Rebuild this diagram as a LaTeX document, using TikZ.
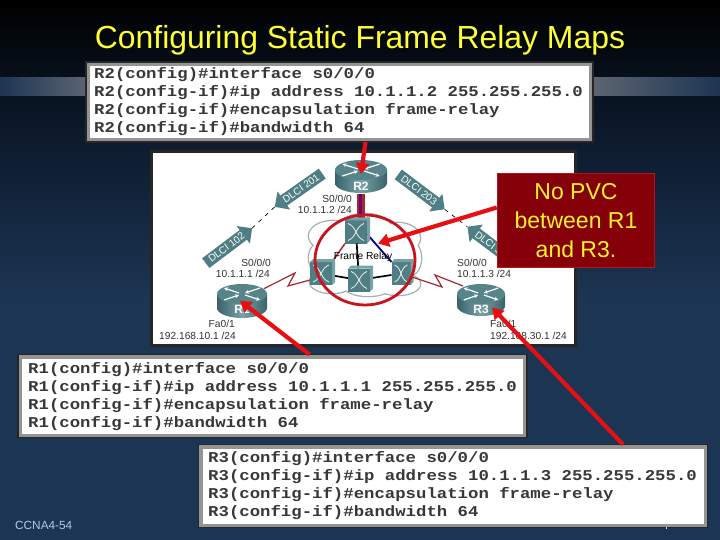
\documentclass[tikz,border=0pt]{standalone}
\usepackage{fontspec}
\setmainfont{Liberation Sans}
\newfontfamily\cfgfont{Liberation Mono}[BoldFont={Liberation Mono Bold}]
\usetikzlibrary{arrows.meta,shapes.arrows,shapes.geometric,calc}
\definecolor{navy}{HTML}{1C3553}
\definecolor{navyb}{HTML}{0A1626}
\definecolor{bandgray}{HTML}{5E6672}
\definecolor{titley}{HTML}{FFFF33}
\definecolor{tealm}{HTML}{4F7F84}
\definecolor{teall}{HTML}{78A2A5}
\definecolor{teald}{HTML}{39626A}
\definecolor{callred}{HTML}{850008}
\definecolor{callrim}{HTML}{B5121F}
\definecolor{arrred}{HTML}{E60F14}
\definecolor{ringred}{HTML}{C7141E}
\definecolor{linkred}{HTML}{A02A30}
\definecolor{cloudg}{HTML}{A4AFB4}
\definecolor{footc}{HTML}{AFCBE8}
\tikzset{
  cfgouter/.style={rectangle,draw=black!85,line width=1.6pt,fill=black!42,inner sep=0pt,outer sep=0pt,minimum width=#1},
  cfginner/.style={rectangle,fill=white,inner sep=0pt,outer sep=0pt,minimum width=#1},
  cfgtext/.style={anchor=west,align=left,inner sep=0pt,xscale=1.155,text=black!78,font=\cfgfont\bfseries\fontsize{15}{17.8}\selectfont},
  redarrow/.style={draw=arrred,line width=4.2pt,-{Triangle[length=11pt,width=13pt]}},
  tag/.style={single arrow,fill=tealm,text=white,inner sep=0.5pt,minimum height=58pt,minimum width=22pt,single arrow head extend=3.5pt,single arrow head indent=0pt,font=\fontsize{10}{11}\selectfont},
  lbl/.style={inner sep=0pt,text=black!80,font=\fontsize{10.2}{11}\selectfont},
  swbox/.style={rectangle,fill=tealm,minimum width=22pt,minimum height=23pt,inner sep=0pt,outer sep=0pt},
  rtrlbl/.style={inner sep=0pt,text=white,font=\bfseries\fontsize{12}{13}\selectfont},
  swline/.style={line width=1.7pt,draw=black},
  dashlink/.style={draw=black,line width=0.7pt,dash pattern=on 4pt off 5pt},
  zig/.style={draw=linkred,line width=1.2pt}
}
% name, cx, cy of top ellipse, rx, ry, body height, label y offset
\newcommand{\rtr}[7]{%
  \shade[left color=teald,right color=teald,middle color=teall]
    (#2-#4,#3) -- (#2-#4,#3+#6)
    arc[start angle=180,end angle=360,x radius=#4pt,y radius=#5pt]
    -- (#2+#4,#3) -- cycle;
  \fill[tealm!85!teall] (#2,#3) ellipse[x radius=#4pt,y radius=#5pt];
  \draw[white,line width=1.2pt,-{Stealth[length=4pt,width=4pt]}] (#2-0.12*#4,#3-0.1*#5) -- (#2-0.72*#4,#3-0.6*#5);
  \draw[white,line width=1.2pt,-{Stealth[length=4pt,width=4pt]}] (#2+0.12*#4,#3+0.1*#5) -- (#2+0.72*#4,#3+0.6*#5);
  \draw[white,line width=1.2pt,-{Stealth[length=4pt,width=4pt]}] (#2+0.72*#4,#3-0.6*#5) -- (#2+0.12*#4,#3-0.1*#5);
  \draw[white,line width=1.2pt,-{Stealth[length=4pt,width=4pt]}] (#2-0.72*#4,#3+0.6*#5) -- (#2-0.12*#4,#3+0.1*#5);
  \node[rtrlbl] (#1) at (#2,#3+#7) {#1};
}
\newcommand{\swx}[1]{%
  \fill[teall] (#1.north west) -- ++(3pt,3pt) -- ([shift={(3pt,3pt)}]#1.north east) -- ([shift={(3pt,3pt)}]#1.south east) -- (#1.south east) -- (#1.north east) -- cycle;
  \draw[white!85!teall,line width=0.8pt] ([shift={(3pt,-3pt)}]#1.north west) to[out=-20,in=160] ([shift={(-3pt,3pt)}]#1.south east);
  \draw[white!85!teall,line width=0.8pt] ([shift={(-3pt,-3pt)}]#1.north east) to[out=200,in=20] ([shift={(3pt,3pt)}]#1.south west);
}
\begin{document}
\begin{tikzpicture}[x=1pt,y=-1pt]
\useasboundingbox (0,0) rectangle (720,540);
% background
\fill[navy] (0,0) rectangle (720,540);
\shade[top color=black,bottom color=navyb] (0,0) rectangle (720,110);
\shade[top color=navyb,bottom color=navy] (0,110) rectangle (720,300);
\shade[left color=navy,right color=bandgray] (0,78) rectangle (90,96);
\shade[left color=bandgray,right color=navy] (590,78) rectangle (720,96);
% title
\node[inner sep=0pt,text=titley,font=\fontsize{31.9}{34}\selectfont] (title) at (360,40) {Configuring Static Frame Relay Maps};
% topology panel
\node[rectangle,draw=black!85,line width=3pt,fill=white,inner sep=0pt,outer sep=0pt,minimum width=424pt,minimum height=193pt] (panel) at (363.5,248.5) {};
% cloud
\foreach \cx/\cy/\rx/\ry in {333/236/24/15, 365/228/26/14, 398/238/22/15, 322/258/13/16, 410/258/11/17, 332/282/22/11, 368/286/24/10, 398/284/22/11}{
  \draw[cloudg,line width=2.6pt] (\cx,\cy) ellipse[x radius=\rx pt,y radius=\ry pt];}
\foreach \cx/\cy/\rx/\ry in {333/236/24/15, 365/228/26/14, 398/238/22/15, 322/258/13/16, 410/258/11/17, 332/282/22/11, 368/286/24/10, 398/284/22/11, 365/258/40/26}{
  \fill[white] (\cx,\cy) ellipse[x radius=\rx pt,y radius=\ry pt];}
% switches
\node[swbox] (SA) at (356,232) {};
\node[swbox] (SB) at (321,273.5) {};
\node[swbox] (SC) at (359,280) {};
\node[swbox,minimum width=19pt] (SD) at (401,273.5) {};
% links
\draw[line width=2.4pt,draw=linkred] (358.2,194) -- (358.2,220);
\draw[line width=2.6pt,draw=violet!90!black] (360.7,194) -- (360.7,220);
\draw[line width=2.4pt,draw=linkred] (363.4,194) -- (363.4,220);
\draw[swline] (SA) -- (SC);
\draw[swline] (SB) -- (SC);
\draw[swline] (SC) -- (SD);
\draw[line width=1.8pt,draw=blue!55!black] (SA.east) ++(0,2) -- (SD.north west);
\draw[line width=1.5pt,draw=linkred] (SA.south west) -- (SB.north east);
\swx{SA}\swx{SB}\swx{SC}\swx{SD}
\node[inner sep=0pt,text=black,font=\fontsize{10.2}{11}\selectfont] (fr) at (363,257) {Frame Relay};
\rtr{R2}{361}{170}{26}{10}{13}{16.5}
\rtr{R1}{242}{294}{25}{10}{14}{15}
\rtr{R3}{481}{294}{24}{10}{12}{15}
% zig-zag links
\draw[zig] (R1.north east) ++(14,-16) -- (295,273) -- (288,286) -- (SB.west |- 0,280);
\draw[zig] (SD.east) ++(0,3) -- (442,287) -- (435,275) -- (463,286);
% interface labels
\node[lbl,anchor=east] (l1) at (352,199) {S0/0/0};
\node[lbl,anchor=east] (l2) at (352,210) {10.1.1.2 /24};
\node[lbl,anchor=east] (l3) at (271,263) {S0/0/0};
\node[lbl,anchor=east] (l4) at (270,274) {10.1.1.1 /24};
\node[lbl,anchor=west] (l5) at (457,263) {S0/0/0};
\node[lbl,anchor=west] (l6) at (457,274) {10.1.1.3 /24};
\node[lbl,anchor=east] (l7) at (235,324) {Fa0/1};
\node[lbl,anchor=east] (l8) at (236,336) {192.168.10.1 /24};
\node[lbl,anchor=west] (l9) at (490,324) {Fa0/1};
\node[lbl,anchor=west] (l10) at (490,336) {192.168.30.1 /24};
% DLCI tags
\node[tag,rotate=35,shape border rotate=180] (d201) at (301,188.5) {DLCI 201};
\node[tag,rotate=37] (d102) at (226.5,247.5) {DLCI 102};
\node[tag,rotate=-37] (d203) at (419,190) {DLCI 203};
\node[tag,rotate=-37,shape border rotate=180] (d302) at (493,246) {DLCI 302};
\draw[dashlink] (d201.west) -- (d102.east);
\draw[dashlink] (d203.east) -- (d302.west);
% ring
\draw[ringred,line width=2.8pt] (365,260) ellipse[x radius=50pt,y radius=45pt];
% configuration boxes
\node[cfgouter=507pt,minimum height=80pt] (boxR2) at (339.5,102) {};
\node[cfginner=499pt,minimum height=72pt] (inR2) at (339.5,102) {};
\node[cfgtext] (txtR2) at (94,101.5) {R2(config)\#interface s0/0/0\\R2(config-if)\#ip address 10.1.1.2 255.255.255.0\\R2(config-if)\#encapsulation frame-relay\\R2(config-if)\#bandwidth 64};
\node[cfgouter=509pt,minimum height=83pt] (boxR1) at (272.5,396) {};
\node[cfginner=501pt,minimum height=75pt] (inR1) at (272.5,396) {};
\node[cfgtext] (txtR1) at (28,396.5) {R1(config)\#interface s0/0/0\\R1(config-if)\#ip address 10.1.1.1 255.255.255.0\\R1(config-if)\#encapsulation frame-relay\\R1(config-if)\#bandwidth 64};
\node[cfgouter=509pt,minimum height=83pt] (boxR3) at (453,486) {};
\node[cfginner=501pt,minimum height=75pt] (inR3) at (453,486) {};
\node[cfgtext] (txtR3) at (208,485.5) {R3(config)\#interface s0/0/0\\R3(config-if)\#ip address 10.1.1.3 255.255.255.0\\R3(config-if)\#encapsulation frame-relay\\R3(config-if)\#bandwidth 64};
% footer
\node[inner sep=0pt,anchor=west,text=footc,font=\fontsize{11.8}{13}\selectfont] (foot) at (15,525) {CCNA4-54};
\fill[white!80!navy] (665.6,526.5) rectangle (666.6,529);
% callout
\node[rectangle,draw=callrim,line width=1.5pt,fill=callred,text=titley!90!orange,align=center,inner sep=0pt,minimum width=157pt,minimum height=94pt,font=\fontsize{23}{29}\selectfont] (call) at (576,220.5) {No PVC\\between R1\\and R3.};
% red arrows
\draw[redarrow] ([xshift=26pt]boxR2.south) -- ([yshift=8pt]R2.north);
\draw[redarrow] ([xshift=37pt]boxR1.north) -- ([xshift=-2pt,yshift=4pt]R1.north);
\draw[redarrow] ([xshift=170pt]boxR3.north) -- ([xshift=11pt,yshift=-3pt]R3.north);
\draw[redarrow] ([yshift=13pt]call.west) -- ([xshift=11pt]SA.south east);
\end{tikzpicture}
\end{document}
